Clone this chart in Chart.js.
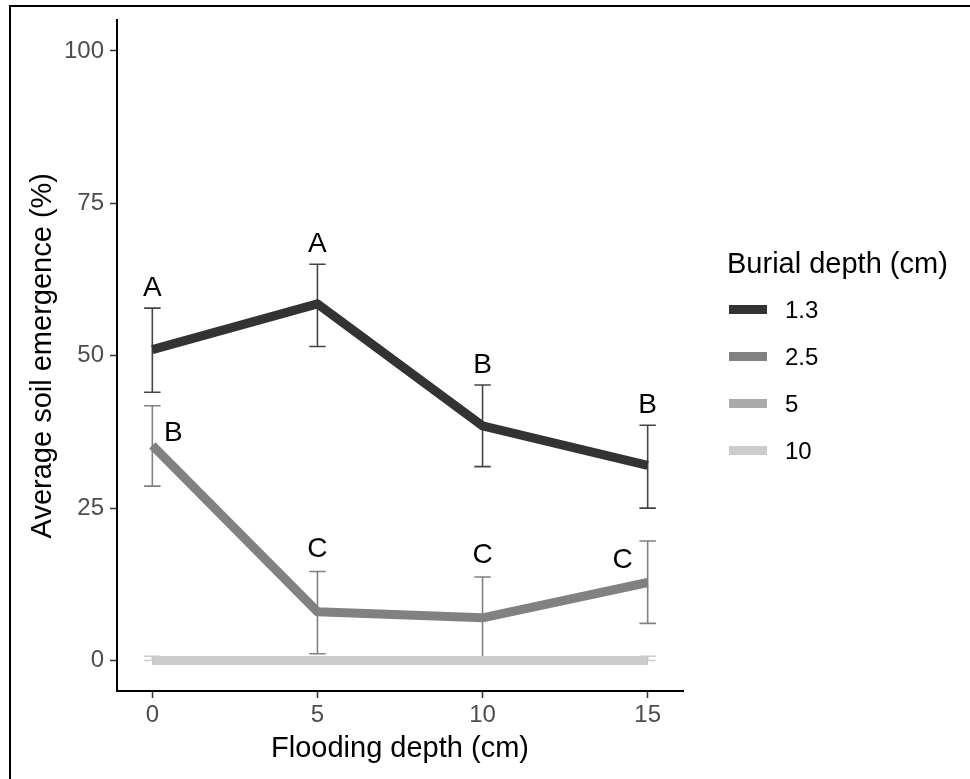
<!DOCTYPE html>
<html>
<head>
<meta charset="utf-8">
<script src="https://cdn.jsdelivr.net/npm/chart.js@4.4.0/dist/chart.umd.min.js"></script>
<style>
  body { margin: 0; background: #fff; font-family: "Liberation Sans", Arial, sans-serif; overflow: hidden; }
  #wrap { position: relative; width: 970px; height: 779px; }
  #frame { position: absolute; left: 9px; top: 5px; width: 990px; height: 800px; border: 2px solid #000; box-sizing: border-box; }
  #chart { position: absolute; left: 0; top: 0; }
  #legend { position: absolute; left: 727px; top: 246px; }
  #legend .title { font-size: 29px; color: #000; line-height: 34px; margin-bottom: 15px; }
  #legend .item { position: relative; height: 47px; }
  #legend .swatch { position: absolute; left: 2px; top: 10px; width: 38px; height: 9px; }
  #legend .lab { position: absolute; left: 58px; top: 0; font-size: 24px; line-height: 29px; color: #000; }
</style>
</head>
<body>
<div id="wrap">
  <div id="frame"></div>
  <canvas id="chart" width="970" height="779"></canvas>
  <div id="legend"></div>
</div>
<script>
// flooding depth (x) and burial depth groups
const floodDepth = [0, 5, 10, 15];
const burialDepths = ["1.3", "2.5", "5", "10"];
const greys = ["#333333", "#818181", "#ababab", "#cccccc"];

// mean emergence (%) per burial depth
const emerg13 = [51, 58.5, 38.5, 32];
const emerg25 = [35.3, 8, 7, 12.8];
const emerg5 = [0, 0, 0, 0];
const emerg10 = [0, 0, 0, 0];

// error bar ends
const low13 = [44, 51.5, 31.8, 25];
const high13 = [57.8, 65, 45.2, 38.6];
const low25 = [28.6, 1.1, 0.4, 6.1];
const high25 = [41.8, 14.6, 13.7, 19.6];
const low5 = [0, 0, 0, 0];
const high5 = [0, 0, 0, 0];
const low10 = [0, 0, 0, 0];
const high10 = [0.7, 0, 0, 0.7];

// significance letters
const letters13 = ["A", "A", "B", "B"];
const letters25 = ["B", "C", "C", "C"];

const xTicks = [0, 5, 10, 15];
const yTicks = [0, 25, 50, 75, 100];

const means = [emerg13, emerg25, emerg5, emerg10];
const lows = [low13, low25, low5, low10];
const highs = [high13, high25, high5, high10];

const FONT = '"Liberation Sans", Arial, sans-serif';

// legend
const leg = document.getElementById("legend");
leg.innerHTML = '<div class="title">Burial depth (cm)</div>' +
  burialDepths.map((b, i) =>
    '<div class="item"><div class="swatch" style="background:' + greys[i] + '"></div><div class="lab">' + b + '</div></div>'
  ).join("");

// error bars drawn under the lines
const errorBars = {
  id: "errorBars",
  beforeDatasetsDraw(chart) {
    const { ctx, scales: { x, y } } = chart;
    ctx.save();
    ctx.lineWidth = 1.6;
    for (let i = means.length - 1; i >= 0; i--) {
      ctx.strokeStyle = greys[i] === "#333333" ? "#444444" : greys[i];
      floodDepth.forEach((fx, j) => {
        if (highs[i][j] === lows[i][j]) return;
        const px = x.getPixelForValue(fx);
        const cap = x.getPixelForValue(fx + 0.25) - px;
        const yt = y.getPixelForValue(highs[i][j]);
        const yb = y.getPixelForValue(lows[i][j]);
        ctx.beginPath();
        ctx.moveTo(px, yt); ctx.lineTo(px, yb);
        ctx.moveTo(px - cap, yt); ctx.lineTo(px + cap, yt);
        ctx.moveTo(px - cap, yb); ctx.lineTo(px + cap, yb);
        ctx.stroke();
      });
    }
    ctx.restore();
  }
};

// letters above bars (two of the 2.5 group are nudged beside the line)
const letterLabels = {
  id: "letterLabels",
  afterDatasetsDraw(chart) {
    const { ctx, scales: { x, y } } = chart;
    ctx.save();
    ctx.font = "28px " + FONT;
    ctx.fillStyle = "#000";
    ctx.textAlign = "center";
    ctx.textBaseline = "middle";
    floodDepth.forEach((fx, j) => {
      ctx.fillText(letters13[j], x.getPixelForValue(fx), y.getPixelForValue(high13[j]) - 20);
    });
    floodDepth.forEach((fx, j) => {
      let px = x.getPixelForValue(fx);
      let py = y.getPixelForValue(high25[j]) - 22;
      if (j === 0) { px += 21; py = y.getPixelForValue(emerg25[j]) - 12; }
      if (j === 3) { px -= 25; py = y.getPixelForValue(emerg25[j]) - 22; }
      ctx.fillText(letters25[j], px, py);
    });
    ctx.restore();
  }
};

new Chart(document.getElementById("chart"), {
  type: "line",
  data: {
    datasets: burialDepths.map((b, i) => ({
      label: b,
      data: floodDepth.map((fx, j) => ({ x: fx, y: means[i][j] })),
      borderColor: greys[i],
      backgroundColor: greys[i],
      borderWidth: 9,
      pointRadius: 0,
      tension: 0,
      fill: false,
      borderCapStyle: "butt",
      borderJoinStyle: "round",
      order: 3 - i
    }))
  },
  options: {
    responsive: false,
    animation: false,
    events: [],
    layout: { padding: { left: 0, top: 18, right: 287, bottom: 0 } },
    plugins: { legend: { display: false }, tooltip: { enabled: false } },
    scales: {
      x: {
        type: "linear",
        min: -1.07,
        max: 16.07,
        afterBuildTicks: s => { s.ticks = xTicks.map(v => ({ value: v })); },
        afterFit: s => { s.height = 88; },
        ticks: { color: "#4d4d4d", font: { size: 24, family: FONT }, padding: 3, maxRotation: 0 },
        grid: { display: true, drawOnChartArea: false, drawTicks: true, tickLength: 7, tickColor: "#333333", tickWidth: 1.5 },
        border: { display: true, color: "#000", width: 2 },
        title: { display: true, text: "Flooding depth (cm)", color: "#000", font: { size: 29, family: FONT }, padding: { top: 0, bottom: 13 } }
      },
      y: {
        min: -5,
        max: 105,
        afterBuildTicks: s => { s.ticks = yTicks.map(v => ({ value: v })); },
        afterFit: s => { s.width = 117; },
        ticks: { color: "#4d4d4d", font: { size: 24, family: FONT }, padding: 6 },
        grid: { display: true, drawOnChartArea: false, drawTicks: true, tickLength: 7, tickColor: "#333333", tickWidth: 1.5 },
        border: { display: true, color: "#000", width: 2 },
        title: { display: true, text: "Average soil emergence (%)", color: "#000", font: { size: 29, family: FONT }, padding: { top: 26, bottom: 0 } }
      }
    }
  },
  plugins: [errorBars, letterLabels]
});
</script>
</body>
</html>
